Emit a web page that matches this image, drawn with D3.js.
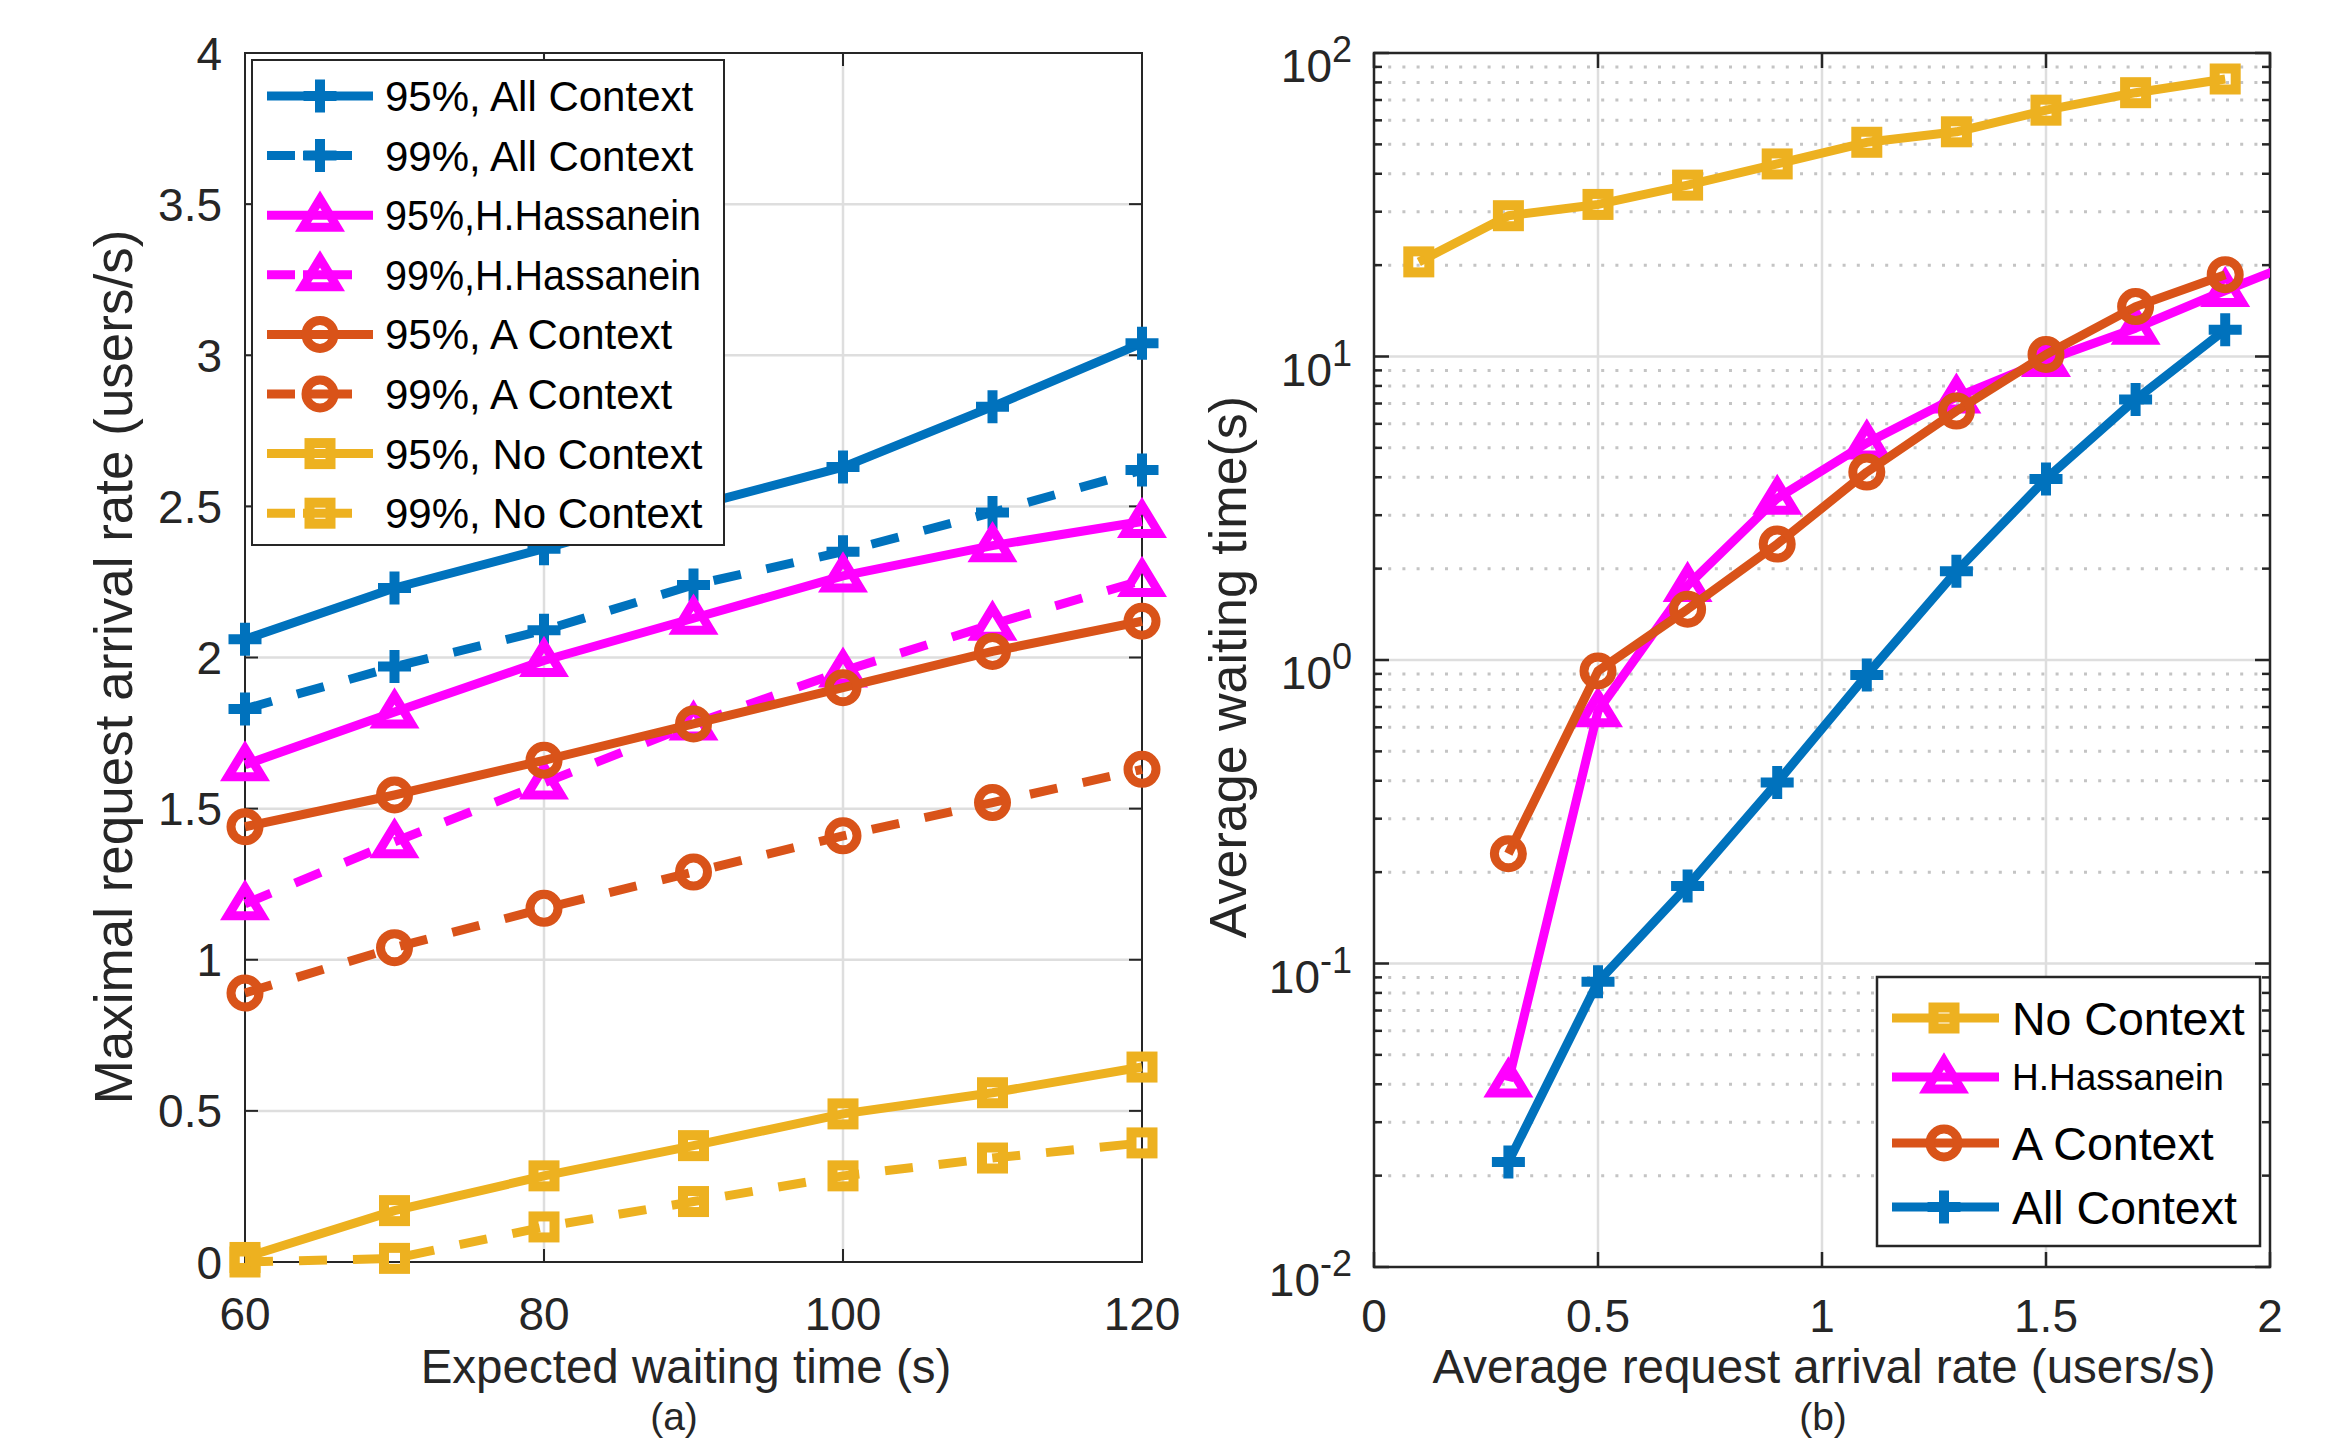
<!DOCTYPE html>
<html><head><meta charset="utf-8">
<script src="https://cdn.jsdelivr.net/npm/d3@7"></script>
<style>
body{margin:0;background:#fff}
svg{display:block}
text{font-family:"Liberation Sans",Arial,Helvetica,sans-serif;fill:#262626}
</style>
</head><body>
<svg id="c" width="2336" height="1439"></svg>
<script>
// ---------- data: panel (a) ----------
const waitTimes = [60, 70, 80, 90, 100, 110, 120];
const allCtx95 = [2.06, 2.23, 2.36, 2.50, 2.63, 2.83, 3.04];
const allCtx99 = [1.83, 1.97, 2.09, 2.24, 2.35, 2.48, 2.62];
const hhCtx95  = [1.645, 1.82, 1.99, 2.13, 2.27, 2.37, 2.45];
const hhCtx99  = [1.185, 1.39, 1.585, 1.78, 1.955, 2.11, 2.255];
const aCtx95   = [1.44, 1.545, 1.66, 1.78, 1.90, 2.02, 2.12];
const aCtx99   = [0.89, 1.04, 1.17, 1.29, 1.41, 1.52, 1.63];
const noCtx95  = [0.015, 0.17, 0.285, 0.385, 0.49, 0.56, 0.645];
const noCtx99  = [0.0, 0.012, 0.116, 0.2, 0.285, 0.344, 0.394];
const leftLegend = ["95%, All Context","99%, All Context","95%,H.Hassanein","99%,H.Hassanein",
                    "95%, A Context","99%, A Context","95%, No Context","99%, No Context"];
const leftXTicks = [60, 80, 100, 120];
const leftYTicks = [0, 0.5, 1, 1.5, 2, 2.5, 3, 3.5, 4];

// ---------- data: panel (b) ----------
const rateNo  = [0.1, 0.3, 0.5, 0.7, 0.9, 1.1, 1.3, 1.5, 1.7, 1.9];
const waitNo  = [20.5, 29.1, 31.7, 36.7, 43.1, 50.8, 55.0, 64.8, 74.0, 82.1];
const rateHH  = [0.3, 0.5, 0.7, 0.9, 1.1, 1.3, 1.5, 1.7, 1.9, 2.1];
const waitHH  = [0.041, 0.68, 1.76, 3.41, 5.19, 7.35, 9.7, 12.4, 16.5, 21.6];
const rateA   = [0.3, 0.5, 0.7, 0.9, 1.1, 1.3, 1.5, 1.7, 1.9];
const waitA   = [0.23, 0.92, 1.47, 2.41, 4.16, 6.61, 10.15, 14.6, 18.6];
const rateAll = [0.3, 0.5, 0.7, 0.9, 1.1, 1.3, 1.5, 1.7, 1.9];
const waitAll = [0.0222, 0.087, 0.18, 0.395, 0.893, 1.96, 3.95, 7.22, 12.25];
const rightLegend = ["No Context","H.Hassanein","A Context","All Context"];
const rightXTicks = [0, 0.5, 1, 1.5, 2];
const rightYExps = [-2, -1, 0, 1, 2];

// ---------- style ----------
const C = {blue:"#0072BD", mag:"#FF00FF", org:"#D95319", yel:"#EDB120", ax:"#262626", grid:"#dedede", minor:"#c4c4c4"};
const LW = 9, DASH = "28,26";
const TICK_BASE = 1330, TITLE_BASE = 1383, SUB_BASE = 1430;

const svg = d3.select("#c");

function marker(g, type, x, y, color) {
  if (type === "plus") {
    g.append("path").attr("d", `M${x-16.5},${y}H${x+16.5}M${x},${y-16.5}V${y+16.5}`)
      .attr("stroke", color).attr("stroke-width", 10).attr("fill", "none");
  } else if (type === "tri") {
    g.append("path").attr("d", `M${x},${y-16}L${x+17},${y+12}L${x-17},${y+12}Z`)
      .attr("stroke", color).attr("stroke-width", 9).attr("fill", "none").attr("stroke-linejoin", "miter");
  } else if (type === "circ") {
    g.append("circle").attr("cx", x).attr("cy", y).attr("r", 14)
      .attr("stroke", color).attr("stroke-width", 9).attr("fill", "none");
  } else if (type === "sq") {
    g.append("rect").attr("x", x-10.5).attr("y", y-10.5).attr("width", 21).attr("height", 21)
      .attr("stroke", color).attr("stroke-width", 10).attr("fill", "none");
  }
}

// ================= Panel (a) =================
const xA = d3.scaleLinear().domain([60, 120]).range([245, 1142]);
const yA = d3.scaleLinear().domain([0, 4]).range([1262, 53]);
const gA = svg.append("g");

leftXTicks.slice(1, -1).forEach(v => gA.append("line").attr("x1", xA(v)).attr("x2", xA(v)).attr("y1", yA(0)).attr("y2", yA(4))
  .attr("stroke", C.grid).attr("stroke-width", 2.5));
leftYTicks.slice(1, -1).forEach(v => gA.append("line").attr("x1", xA(60)).attr("x2", xA(120)).attr("y1", yA(v)).attr("y2", yA(v))
  .attr("stroke", C.grid).attr("stroke-width", 2.5));

gA.append("rect").attr("x", xA(60)).attr("y", yA(4)).attr("width", xA(120)-xA(60)).attr("height", yA(0)-yA(4))
  .attr("fill", "none").attr("stroke", C.ax).attr("stroke-width", 2);
leftXTicks.forEach(v => {
  gA.append("line").attr("x1", xA(v)).attr("x2", xA(v)).attr("y1", yA(0)).attr("y2", yA(0)-13).attr("stroke", C.ax).attr("stroke-width", 2);
  gA.append("line").attr("x1", xA(v)).attr("x2", xA(v)).attr("y1", yA(4)).attr("y2", yA(4)+13).attr("stroke", C.ax).attr("stroke-width", 2);
  gA.append("text").attr("x", xA(v)).attr("y", TICK_BASE).attr("text-anchor", "middle").attr("font-size", 46).text(v);
});
leftYTicks.forEach(v => {
  gA.append("line").attr("x1", xA(60)).attr("x2", xA(60)+13).attr("y1", yA(v)).attr("y2", yA(v)).attr("stroke", C.ax).attr("stroke-width", 2);
  gA.append("line").attr("x1", xA(120)).attr("x2", xA(120)-13).attr("y1", yA(v)).attr("y2", yA(v)).attr("stroke", C.ax).attr("stroke-width", 2);
  gA.append("text").attr("x", 222).attr("y", yA(v)+16.5).attr("text-anchor", "end").attr("font-size", 46).text(String(v));
});

const seriesA = [
  {y: allCtx95, c: C.blue, m: "plus", d: null},
  {y: allCtx99, c: C.blue, m: "plus", d: DASH},
  {y: hhCtx95,  c: C.mag,  m: "tri",  d: null},
  {y: hhCtx99,  c: C.mag,  m: "tri",  d: DASH},
  {y: aCtx95,   c: C.org,  m: "circ", d: null},
  {y: aCtx99,   c: C.org,  m: "circ", d: DASH},
  {y: noCtx95,  c: C.yel,  m: "sq",   d: null},
  {y: noCtx99,  c: C.yel,  m: "sq",   d: DASH}
];
const lineA = d3.line().x(d => xA(d[0])).y(d => yA(d[1]));
seriesA.forEach(s => {
  const pts = waitTimes.map((x, i) => [x, s.y[i]]);
  const g = gA.append("g");
  g.append("path").attr("d", lineA(pts)).attr("fill", "none").attr("stroke", s.c).attr("stroke-width", LW)
    .attr("stroke-dasharray", s.d).attr("stroke-linejoin", "round");
  pts.forEach(p => marker(g, s.m, xA(p[0]), yA(p[1]), s.c));
});

// legend (a)
const lgA = svg.append("g");
lgA.append("rect").attr("x", 252).attr("y", 60).attr("width", 472).attr("height", 485)
  .attr("fill", "#fff").attr("stroke", C.ax).attr("stroke-width", 2);
seriesA.forEach((s, i) => {
  const cy = 96 + i * 59.6;
  lgA.append("line").attr("x1", 267).attr("x2", 373).attr("y1", cy).attr("y2", cy)
    .attr("stroke", s.c).attr("stroke-width", LW).attr("stroke-dasharray", s.d ? "28,8,49,100" : null);
  marker(lgA, s.m, 320, cy, s.c);
  const t = lgA.append("text").attr("x", 385).attr("y", cy + 15).attr("font-size", 42).style("fill", "#000").text(leftLegend[i]);
  if (leftLegend[i].indexOf("H.") >= 0) t.attr("textLength", 316).attr("lengthAdjust", "spacingAndGlyphs");
});

svg.append("text").attr("transform", "translate(132,667) rotate(-90)").attr("text-anchor", "middle")
  .attr("font-size", 53).text("Maximal request arrival rate (users/s)");
svg.append("text").attr("x", 686).attr("y", TITLE_BASE).attr("text-anchor", "middle").attr("font-size", 47.5).text("Expected waiting time (s)");
svg.append("text").attr("x", 674).attr("y", SUB_BASE).attr("text-anchor", "middle").attr("font-size", 39).text("(a)");

// ================= Panel (b) =================
const xB = d3.scaleLinear().domain([0, 2]).range([1374, 2270]);
const yB = d3.scaleLog().domain([0.01, 100]).range([1267, 53]);
const gB = svg.append("g");

svg.append("defs").append("clipPath").attr("id", "clipB").append("rect")
  .attr("x", 1374).attr("y", 53).attr("width", 896).attr("height", 1214);

const minorVals = [];
rightYExps.slice(0, -1).forEach(e => { for (let k = 2; k <= 9; k++) minorVals.push(k * Math.pow(10, e)); });
minorVals.forEach(v => {
  gB.append("line").attr("x1", xB(0)).attr("x2", xB(2)).attr("y1", yB(v)).attr("y2", yB(v))
    .attr("stroke", C.minor).attr("stroke-width", 3).attr("stroke-dasharray", "3,11.2");
});
rightYExps.slice(1, -1).forEach(e => gB.append("line").attr("x1", xB(0)).attr("x2", xB(2)).attr("y1", yB(Math.pow(10, e))).attr("y2", yB(Math.pow(10, e)))
  .attr("stroke", C.grid).attr("stroke-width", 2.5));
rightXTicks.slice(1, -1).forEach(v => gB.append("line").attr("x1", xB(v)).attr("x2", xB(v)).attr("y1", yB(0.01)).attr("y2", yB(100))
  .attr("stroke", C.grid).attr("stroke-width", 2.5));

gB.append("rect").attr("x", xB(0)).attr("y", yB(100)).attr("width", xB(2)-xB(0)).attr("height", yB(0.01)-yB(100))
  .attr("fill", "none").attr("stroke", C.ax).attr("stroke-width", 2.5);
rightXTicks.forEach(v => {
  gB.append("line").attr("x1", xB(v)).attr("x2", xB(v)).attr("y1", yB(0.01)).attr("y2", yB(0.01)-15).attr("stroke", C.ax).attr("stroke-width", 2.5);
  gB.append("line").attr("x1", xB(v)).attr("x2", xB(v)).attr("y1", yB(100)).attr("y2", yB(100)+15).attr("stroke", C.ax).attr("stroke-width", 2.5);
  gB.append("text").attr("x", xB(v)).attr("y", TICK_BASE + 2).attr("text-anchor", "middle").attr("font-size", 46).text(String(v));
});
minorVals.forEach(v => {
  gB.append("line").attr("x1", xB(0)).attr("x2", xB(0)+8).attr("y1", yB(v)).attr("y2", yB(v)).attr("stroke", C.ax).attr("stroke-width", 2.5);
  gB.append("line").attr("x1", xB(2)).attr("x2", xB(2)-8).attr("y1", yB(v)).attr("y2", yB(v)).attr("stroke", C.ax).attr("stroke-width", 2.5);
});
rightYExps.forEach(e => {
  const v = Math.pow(10, e);
  gB.append("line").attr("x1", xB(0)).attr("x2", xB(0)+15).attr("y1", yB(v)).attr("y2", yB(v)).attr("stroke", C.ax).attr("stroke-width", 2.5);
  gB.append("line").attr("x1", xB(2)).attr("x2", xB(2)-15).attr("y1", yB(v)).attr("y2", yB(v)).attr("stroke", C.ax).attr("stroke-width", 2.5);
  const t = gB.append("text").attr("x", 1352).attr("y", yB(v) + 29).attr("text-anchor", "end").attr("font-size", 46);
  t.append("tspan").text("10");
  t.append("tspan").attr("dy", -20).attr("font-size", 36).text(String(e));
});

const seriesB = [
  {x: rateNo,  y: waitNo,  c: C.yel,  m: "sq"},
  {x: rateHH,  y: waitHH,  c: C.mag,  m: "tri"},
  {x: rateA,   y: waitA,   c: C.org,  m: "circ"},
  {x: rateAll, y: waitAll, c: C.blue, m: "plus"}
];
const lineB = d3.line().x(d => xB(d[0])).y(d => yB(d[1]));
seriesB.forEach(s => {
  const pts = s.x.map((x, i) => [x, s.y[i]]);
  const g = gB.append("g");
  g.append("path").attr("d", lineB(pts)).attr("fill", "none").attr("stroke", s.c).attr("stroke-width", LW)
    .attr("stroke-linejoin", "round").attr("clip-path", "url(#clipB)");
  pts.filter(p => p[0] <= 2).forEach(p => marker(g, s.m, xB(p[0]), yB(p[1]), s.c));
});

// legend (b)
const lgB = svg.append("g");
lgB.append("rect").attr("x", 1877).attr("y", 977).attr("width", 383).attr("height", 269)
  .attr("fill", "#fff").attr("stroke", C.ax).attr("stroke-width", 2.5);
const rowsB = [1018, 1077, 1143, 1207];
const fsB = [46.5, 37, 46.5, 46.5];
seriesB.forEach((s, i) => {
  const cy = rowsB[i];
  lgB.append("line").attr("x1", 1892).attr("x2", 1999).attr("y1", cy).attr("y2", cy).attr("stroke", s.c).attr("stroke-width", LW);
  marker(lgB, s.m, 1944, cy, s.c);
  lgB.append("text").attr("x", 2012).attr("y", cy + fsB[i] * 0.36).attr("font-size", fsB[i]).style("fill", "#000").text(rightLegend[i]);
});

svg.append("text").attr("transform", "translate(1246,667) rotate(-90)").attr("text-anchor", "middle")
  .attr("font-size", 52).text("Average waiting time(s)");
svg.append("text").attr("x", 1824).attr("y", TITLE_BASE).attr("text-anchor", "middle").attr("font-size", 47.5).text("Average request arrival rate (users/s)");
svg.append("text").attr("x", 1823).attr("y", SUB_BASE).attr("text-anchor", "middle").attr("font-size", 39).text("(b)");
</script>
</body></html>
